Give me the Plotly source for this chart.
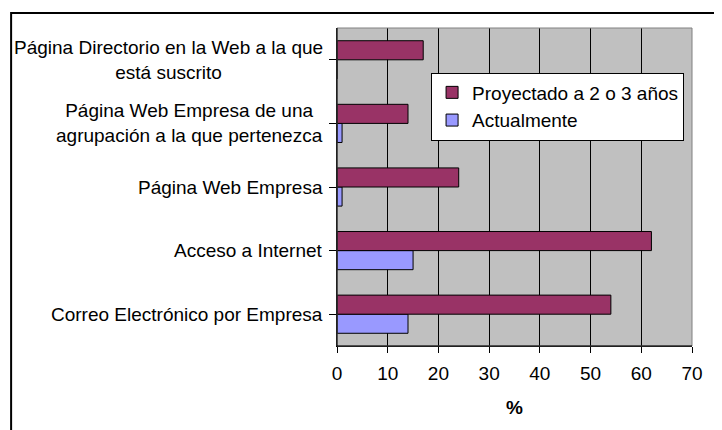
import plotly.graph_objects as go

categories = [
    "Correo Electrónico por Empresa",
    "Acceso a Internet",
    "Página Web Empresa",
    "Página Web Empresa de una<br>agrupación a la que pertenezca",
    "Página Directorio en la Web a la que<br>está suscrito",
]
proyectado = [54, 62, 24, 14, 17]
actualmente = [14, 15, 1, 1, 0]
series_names = ["Proyectado a 2 o 3 años", "Actualmente"]
x_ticks = [0, 10, 20, 30, 40, 50, 60, 70]

FONT = "Liberation Sans, Arial, sans-serif"
yidx = list(range(len(categories)))

fig = go.Figure()
fig.add_trace(go.Bar(
    y=yidx, x=actualmente, orientation="h", name=series_names[1],
    marker=dict(color="#9999FF", line=dict(color="black", width=1)),
))
fig.add_trace(go.Bar(
    y=yidx, x=proyectado, orientation="h", name=series_names[0],
    marker=dict(color="#993366", line=dict(color="black", width=1)),
))

annotations = []
for i, c in enumerate(categories):
    annotations.append(dict(
        x=-0.033, xref="paper", y=i, yref="y", text=c, showarrow=False,
        xanchor="right", yanchor="middle", align="center",
        font=dict(family=FONT, size=19, color="black"),
    ))

fig.update_layout(
    width=722, height=430,
    margin=dict(l=329, r=38, t=20, b=92, autoexpand=False),
    paper_bgcolor="white", plot_bgcolor="#C0C0C0",
    barmode="group", bargap=0.4, bargroupgap=0,
    font=dict(family=FONT, size=19, color="black"),
    showlegend=True,
    legend=dict(
        x=0.265, y=0.86, xanchor="left", yanchor="top",
        bgcolor="white", bordercolor="black", borderwidth=1,
        traceorder="reversed", font=dict(family=FONT, size=19, color="black"),
    ),
    xaxis=dict(
        range=[0, 70], tickvals=x_ticks, ticktext=[str(v) for v in x_ticks],
        showgrid=True, gridcolor="black", gridwidth=1,
        showline=True, linecolor="black", linewidth=1,
        ticks="outside", ticklen=6, tickcolor="black",
        ticklabelstandoff=4,
        zeroline=False, automargin=False,
        title=dict(text="<b>%</b>", font=dict(family=FONT, size=19), standoff=17),
        tickfont=dict(family=FONT, size=19),
    ),
    yaxis=dict(
        range=[-0.5, len(categories) - 0.5],
        tickvals=yidx, showticklabels=False, tickson="boundaries",
        ticks="outside", ticklen=7, tickcolor="black",
        showgrid=False, zeroline=False, automargin=False,
        showline=True, linecolor="black", linewidth=1,
    ),
    annotations=annotations,
    shapes=[
        dict(type="rect", xref="paper", yref="paper", x0=0, x1=1, y0=0, y1=1,
             line=dict(color="#808080", width=1), layer="above"),
        dict(type="line", xref="paper", yref="paper", x0=0, x1=0, y0=0, y1=1,
             line=dict(color="black", width=1), layer="above"),
        dict(type="line", xref="paper", yref="paper", x0=0, x1=1, y0=0, y1=0,
             line=dict(color="black", width=1), layer="above"),
        dict(type="rect", xref="paper", yref="paper", x0=-0.918, x1=1.2, y0=-0.4, y1=1.047,
             line=dict(color="black", width=2), layer="below"),
    ],
)

fig.write_html("out.html")
